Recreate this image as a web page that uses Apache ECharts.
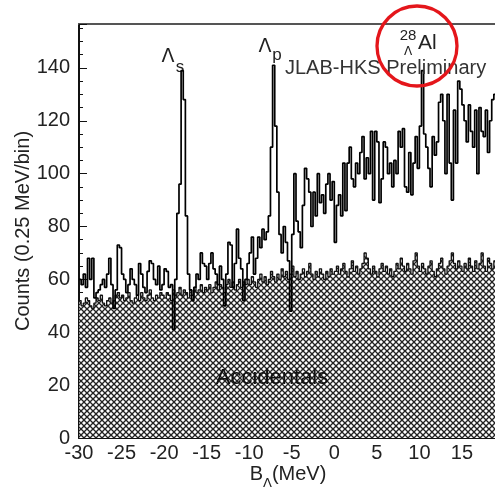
<!DOCTYPE html>
<html><head><meta charset="utf-8">
<script src="https://cdn.jsdelivr.net/npm/echarts@6/dist/echarts.min.js"></script>
<style>html,body{margin:0;padding:0;background:#fff}#c{width:495px;height:488px}</style>
</head><body><div id="c"></div>
<script>
// ---- data ----
const binStart = -30;      // MeV, left edge of first bin
const binWidth = 0.25;     // MeV per bin
const xTickValues = [-30, -25, -20, -15, -10, -5, 0, 5, 10, 15];
const yTickValues = [0, 20, 40, 60, 80, 100, 120, 140];
const xMax = 19.12;
const yMax = 156.6;

// Total spectrum (counts per 0.25 MeV bin), bins from -30 MeV
const mainCounts = [
  60, 58, 62, 57, 68, 60, 68, 53, 55, 56, 58, 60, 57, 62, 68, 58, 49, 56, 73, 72,
  62, 60, 55, 58, 64, 60, 58, 54, 66, 62, 57, 55, 63, 67, 66, 60, 58, 65, 56, 58,
  64, 63, 57, 58, 41, 60, 85, 96, 139, 128, 84, 62, 56, 52, 57, 62, 60, 70, 66, 65,
  60, 66, 70, 64, 62, 58, 65, 60, 50, 62, 74, 73, 57, 66, 79, 68, 64, 52, 60, 66,
  70, 76, 62, 68, 76, 72, 79, 75, 78, 84, 110, 141, 118, 93, 77, 70, 80, 74, 67, 48,
  77, 100, 82, 78, 72, 88, 102, 98, 93, 80, 93, 84, 100, 89, 92, 85, 96, 100, 90, 97,
  74, 88, 92, 84, 104, 86, 104, 110, 98, 95, 104, 100, 108, 114, 98, 106, 100, 116, 90, 116,
  112, 89, 98, 112, 110, 100, 104, 95, 105, 100, 116, 110, 117, 95, 93, 108, 92, 104, 114, 102,
  118, 139, 115, 110, 102, 95, 114, 107, 112, 127, 130, 120, 100, 130, 104, 90, 124, 104, 135, 132,
  126, 120, 112, 126, 116, 110, 124, 100, 125, 116, 114, 124, 108, 120, 128, 130
];
// Accidental background (counts per bin)
const accCounts = [
  52, 50, 51, 53, 52, 50, 49, 51, 53, 52, 54, 51, 50, 52, 53, 51, 52, 54, 55, 53,
  54, 52, 53, 55, 52, 51, 53, 54, 52, 55, 53, 52, 54, 56, 53, 52, 54, 53, 55, 54,
  53, 55, 54, 52, 56, 54, 55, 57, 54, 56, 55, 53, 56, 54, 57, 55, 56, 58, 55, 57,
  56, 58, 55, 57, 59, 56, 58, 57, 55, 58, 60, 57, 59, 56, 58, 60, 57, 59, 58, 60,
  58, 61, 59, 57, 60, 62, 59, 61, 58, 60, 63, 61, 59, 62, 60, 64, 61, 63, 60, 62,
  65, 61, 63, 60, 62, 64, 61, 63, 66, 62, 60, 63, 61, 64, 62, 60, 63, 61, 64, 62,
  63, 65, 62, 64, 66, 63, 61, 64, 67, 63, 65, 62, 64, 66, 70, 68, 64, 62, 65, 63,
  61, 64, 66, 63, 65, 62, 64, 61, 63, 66, 64, 68, 65, 63, 66, 64, 62, 67, 70, 65,
  63, 66, 64, 62, 65, 67, 63, 61, 64, 66, 68, 64, 62, 65, 67, 70, 66, 64, 67, 65,
  63, 66, 64, 68, 65, 63, 67, 64, 66, 70, 65, 63, 68, 66, 64, 67
];

// ---- build ----
function histPoints(counts) {
  const pts = counts.map((v, i) => [binStart + i * binWidth, v]);
  pts.push([binStart + counts.length * binWidth, counts[counts.length - 1]]);
  return pts;
}

function hatch() {
  const s = 6;
  const c = document.createElement('canvas');
  c.width = s; c.height = s;
  const g = c.getContext('2d');
  g.fillStyle = '#ffffff'; g.fillRect(0, 0, s, s);
  g.strokeStyle = '#222222'; g.lineWidth = 1.3;
  for (let k = -1; k <= 1; k++) {
    g.beginPath(); g.moveTo(-1 + k * s, -1); g.lineTo(s + 1 + k * s, s + 1); g.stroke();
    g.beginPath(); g.moveTo(s + 1 + k * s, -1); g.lineTo(-1 + k * s, s + 1); g.stroke();
  }
  return c;
}

const FONT = 'Liberation Sans, Arial, Helvetica, sans-serif';
const GREEK = '"DejaVu Sans", "Liberation Sans", sans-serif';
const chart = echarts.init(document.getElementById('c'), null, {renderer: 'canvas'});

const labelFmtX = v => (xTickValues.indexOf(Math.round(v * 1000) / 1000) >= 0 ? String(v) : '');
const labelFmtY = v => (yTickValues.indexOf(Math.round(v * 1000) / 1000) >= 0 ? String(v) : '');

chart.setOption({
  animation: false,
  backgroundColor: '#fff',
  grid: {left: 79, top: 24, right: -2, bottom: 50, containLabel: false, outerBoundsMode: 'none'},
  xAxis: [
    {
      type: 'value', min: xTickValues[0], max: xMax, interval: xTickValues[1] - xTickValues[0],
      position: 'bottom',
      axisLine: {show: true, onZero: false, lineStyle: {color: '#111', width: 2}},
      axisTick: {show: true, inside: true, length: 8, lineStyle: {color: '#111', width: 1}},
      axisLabel: {margin: 5, fontSize: 20, color: '#222', fontFamily: FONT, formatter: labelFmtX},
      splitLine: {show: false},
      name: '{m|B}{s|Λ}{m|(MeV)}',
      nameLocation: 'middle', nameGap: 26, nameMoveOverlap: false,
      nameTextStyle: {
        fontFamily: FONT, color: '#222',
        rich: {
          m: {fontSize: 20, fontFamily: FONT, color: '#222', lineHeight: 26, verticalAlign: 'top'},
          s: {fontSize: 13, fontFamily: GREEK, color: '#222', lineHeight: 12, verticalAlign: 'bottom'}
        }
      }
    },
    {
      type: 'value', min: xTickValues[0], max: xMax, interval: 1, position: 'bottom',
      axisLine: {show: false, onZero: false},
      axisTick: {show: true, inside: true, length: 4, lineStyle: {color: '#111', width: 1}},
      axisLabel: {show: false}, splitLine: {show: false}
    },
    {
      type: 'value', min: xTickValues[0], max: xMax, position: 'top',
      axisLine: {show: true, onZero: false, lineStyle: {color: '#555', width: 2}},
      axisTick: {show: false}, axisLabel: {show: false}, splitLine: {show: false}
    }
  ],
  yAxis: [
    {
      type: 'value', min: yTickValues[0], max: yMax, interval: yTickValues[1] - yTickValues[0],
      position: 'left',
      axisLine: {show: true, onZero: false, lineStyle: {color: '#111', width: 2}},
      axisTick: {show: true, inside: true, length: 8, lineStyle: {color: '#111', width: 1}},
      axisLabel: {margin: 9, fontSize: 20, color: '#222', fontFamily: FONT, formatter: labelFmtY},
      splitLine: {show: false},
      name: 'Counts (0.25 MeV/bin)', nameLocation: 'middle', nameGap: 46, nameRotate: 90,
      nameMoveOverlap: false,
      nameTextStyle: {fontSize: 20, color: '#222', fontFamily: FONT}
    },
    {
      type: 'value', min: yTickValues[0], max: yMax, interval: 5, position: 'left',
      axisLine: {show: false, onZero: false},
      axisTick: {show: true, inside: true, length: 4, lineStyle: {color: '#111', width: 1}},
      axisLabel: {show: false}, splitLine: {show: false}
    }
  ],
  series: [
    {
      name: 'Accidentals', type: 'line', step: 'end', xAxisIndex: 0, yAxisIndex: 0,
      data: histPoints(accCounts), showSymbol: false, symbol: 'none', z: 2,
      lineStyle: {color: '#111', width: 1.3},
      areaStyle: {color: {image: hatch(), repeat: 'repeat'}, opacity: 1, origin: 'start'}
    },
    {
      name: 'Spectrum', type: 'line', step: 'end', xAxisIndex: 0, yAxisIndex: 0,
      data: histPoints(mainCounts), showSymbol: false, symbol: 'none', z: 3,
      lineStyle: {color: '#000', width: 1.7}
    }
  ],
  graphic: [
    {type: 'text', x: 168, y: 57, z: 100, style: {text: 'Λ', fontSize: 19, fontFamily: GREEK, fill: '#222', align: 'center', verticalAlign: 'middle'}},
    {type: 'text', x: 180, y: 67, z: 1, style: {text: 's', fontSize: 17, fontFamily: FONT, fill: '#222', align: 'center', verticalAlign: 'middle'}},
    {type: 'text', x: 265, y: 47, z: 100, style: {text: 'Λ', fontSize: 19, fontFamily: GREEK, fill: '#222', align: 'center', verticalAlign: 'middle'}},
    {type: 'text', x: 277, y: 55, z: 100, style: {text: 'p', fontSize: 17, fontFamily: FONT, fill: '#222', align: 'center', verticalAlign: 'middle'}},
    {type: 'text', x: 285, y: 68, z: 100, style: {text: 'JLAB-HKS Preliminary', fontSize: 20, fontFamily: FONT, fill: '#333', align: 'left', verticalAlign: 'middle'}},
    {type: 'text', x: 408, y: 36, z: 100, style: {text: '28', fontSize: 15, fontFamily: FONT, fill: '#222', align: 'center', verticalAlign: 'middle'}},
    {type: 'text', x: 418, y: 43, z: 100, style: {text: 'Al', fontSize: 21, fontFamily: FONT, fill: '#222', align: 'left', verticalAlign: 'middle'}},
    {type: 'text', x: 408, y: 52, z: 100, style: {text: 'Λ', fontSize: 12, fontFamily: GREEK, fill: '#222', align: 'center', verticalAlign: 'middle'}},
    {type: 'circle', z: 101, shape: {cx: 417, cy: 46, r: 40}, style: {fill: 'none', stroke: '#e4161b', lineWidth: 3.3}},
    {type: 'text', x: 272, y: 378, z: 100, style: {text: 'Accidentals', fontSize: 22, fontFamily: FONT, fill: '#111', align: 'center', verticalAlign: 'middle'}}
  ]
});
</script>
</body></html>
